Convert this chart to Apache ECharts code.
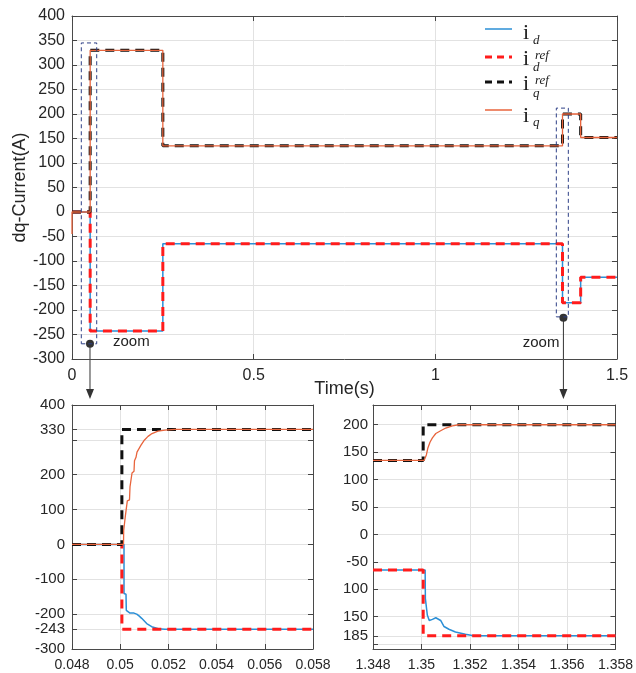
<!DOCTYPE html>
<html>
<head>
<meta charset="utf-8">
<script src="https://cdn.jsdelivr.net/npm/echarts@6/dist/echarts.min.js"></script>
<style>
html,body{margin:0;padding:0;background:#fff;}
#main{width:636px;height:673px;}
</style>
</head>
<body>
<div id="main"></div>
<script>
// whole run: reference steps
var stepTimes = [0, 0.05, 0.25, 1.35, 1.4, 1.5];
var idRefLevels = [0, -243, -65, -185, -133];
var iqRefLevels = [0, 330, 135, 200, 152];
var iqStartValue = -45; // small start transient of iq at t=0

// zoom 1 : t = 0.048 .. 0.058
var z1IdRef = [[0.048, 0], [0.05007, 0], [0.05007, -243], [0.058, -243]];
var z1IqRef = [[0.048, 0], [0.05007, 0], [0.05007, 330], [0.058, 330]];
var z1Iq = [[0.048, 0], [0.050137, 0], [0.050145, 40], [0.050199, 42], [0.05022, 85], [0.050282, 90],
  [0.050295, 125], [0.050386, 128], [0.050407, 165], [0.050469, 170], [0.05049, 205], [0.050573, 210],
  [0.050593, 240], [0.050656, 250], [0.050697, 265], [0.05078, 275], [0.050863, 285], [0.050988, 298],
  [0.051154, 310], [0.05132, 318], [0.051568, 325], [0.051859, 328], [0.052274, 330], [0.058, 330]];
var z1Id = [[0.048, 0], [0.050158, 0], [0.050158, -141], [0.050241, -143], [0.050253, -189], [0.050324, -193],
  [0.050407, -197], [0.050573, -197], [0.050685, -200], [0.05078, -205], [0.050892, -212], [0.0511, -227],
  [0.051307, -236], [0.051581, -242], [0.051859, -243], [0.058, -243]];

// zoom 2 : t = 1.348 .. 1.358
var z2IdRef = [[1.348, -65], [1.35007, -65], [1.35007, -185], [1.358, -185]];
var z2IqRef = [[1.348, 135], [1.35007, 135], [1.35007, 200], [1.358, 200]];
var z2Iq = [[1.348, 135], [1.35011, 135], [1.35019, 137], [1.3502, 145], [1.35025, 147], [1.35026, 157],
  [1.35032, 160], [1.35035, 168], [1.35045, 176], [1.35059, 184], [1.35079, 189], [1.351, 194],
  [1.35127, 198], [1.35154, 200], [1.358, 200]];
var z2Id = [[1.348, -65], [1.35015, -65], [1.35016, -117], [1.35023, -120], [1.35024, -147], [1.35032, -157],
  [1.35038, -159], [1.35045, -155], [1.35052, -153], [1.35059, -152], [1.35065, -153], [1.35079, -157],
  [1.35093, -168], [1.35113, -173], [1.3514, -178], [1.35181, -182], [1.35215, -185], [1.358, -185]];

// tick values / labels
var z1YTicks = [-300, -243, -200, -100, 0, 100, 200, 300, 330, 400];
var z1YLabels = [-300, -243, -200, -100, 0, 100, 200, 330, 400];
var z2YTicks = [-200, -185, -150, -100, -50, 0, 50, 100, 150, 200];
var z2YLabels = [-185, -150, -100, -50, 0, 50, 100, 150, 200];
var z2YText = {'-185': '185', '-150': '150', '-100': '100'}; // printed without minus in the figure

// zoom windows marked on the main plot [x0, y0, x1, y1] and their pointer dots
var zoomBoxes = [[0.0256, -269, 0.068, 345], [1.333, -214, 1.366, 212]];
var zoomDots = [[0.0495, -269], [1.3525, -216]];

var C_ID = '#2b8fd6', C_IDREF = '#ff1c1c', C_IQREF = '#111111', C_IQ = '#e8643c';
var FONT = '"Liberation Sans", Arial, sans-serif';

function steps(times, levels) {
  var out = [];
  for (var i = 0; i < levels.length; i++) {
    out.push([times[i], levels[i]]);
    out.push([times[i + 1], levels[i]]);
  }
  return out;
}

function ln(data, ax, color, width, dash, z) {
  return {
    type: 'line', data: data, xAxisIndex: ax, yAxisIndex: ax, symbol: 'none',
    silent: true, animation: false, z: z,
    lineStyle: {color: color, width: width, type: dash || 'solid'}
  };
}

function boxLine(b) {
  return [[b[0], b[1]], [b[2], b[1]], [b[2], b[3]], [b[0], b[3]], [b[0], b[1]]];
}

var tick = {show: true, inside: true, length: 5, lineStyle: {color: '#444'}};
var line = {show: true, onZero: false, lineStyle: {color: '#4a4a4a', width: 1}};
var split = {show: true, lineStyle: {color: '#e2e2e2', width: 1}};

function xAx(g, min, max, interval, size) {
  return [{
    type: 'value', gridIndex: g, min: min, max: max, interval: interval, position: 'bottom',
    axisLine: line, axisTick: tick, splitLine: split,
    axisLabel: {color: '#262626', fontSize: size, fontFamily: FONT, margin: 9}
  }, {
    type: 'value', gridIndex: g, min: min, max: max, interval: interval, position: 'top',
    axisLine: line, axisTick: tick, splitLine: {show: false}, axisLabel: {show: false}
  }];
}

var iqTop = [[0, iqStartValue]].concat(steps(stepTimes, iqRefLevels));

var xAxes = [].concat(
  xAx(0, 0, 1.5, 0.5, 16),
  xAx(1, 0.048, 0.058, 0.002, 14),
  xAx(2, 1.348, 1.358, 0.002, 14)
);
xAxes[0].name = 'Time(s)';
xAxes[0].nameLocation = 'middle';
xAxes[0].nameGap = 21;
xAxes[0].nameMoveOverlap = false;
xAxes[0].nameTextStyle = {color: '#262626', fontSize: 18, fontFamily: FONT};

var yAxes = [
  {type: 'value', gridIndex: 0, min: -300, max: 400, interval: 50, position: 'left',
    axisLine: line, axisTick: tick, splitLine: split,
    axisLabel: {color: '#262626', fontSize: 16, fontFamily: FONT, margin: 7},
    name: 'dq-Current(A)', nameLocation: 'middle', nameGap: 43, nameMoveOverlap: false,
    nameTextStyle: {color: '#262626', fontSize: 18, fontFamily: FONT}},
  {type: 'value', gridIndex: 0, min: -300, max: 400, interval: 50, position: 'right',
    axisLine: line, axisTick: tick, splitLine: {show: false}, axisLabel: {show: false}},
  {type: 'value', gridIndex: 1, min: -300, max: 400, position: 'left',
    axisLine: line, axisTick: Object.assign({}, tick, {customValues: z1YTicks}), splitLine: split,
    axisLabel: {color: '#262626', fontSize: 15, fontFamily: FONT, margin: 7, customValues: z1YLabels}},
  {type: 'value', gridIndex: 1, min: -300, max: 400, position: 'right',
    axisLine: line, axisTick: Object.assign({}, tick, {customValues: z1YTicks}),
    splitLine: {show: false}, axisLabel: {show: false}},
  {type: 'value', gridIndex: 2, min: -209, max: 236, position: 'left',
    axisLine: line, axisTick: Object.assign({}, tick, {customValues: z2YTicks}), splitLine: split,
    axisLabel: {color: '#262626', fontSize: 15, fontFamily: FONT, margin: 5, customValues: z2YLabels,
      formatter: function (v) { return z2YText[String(v)] || String(v); }}},
  {type: 'value', gridIndex: 2, min: -209, max: 236, position: 'right',
    axisLine: line, axisTick: Object.assign({}, tick, {customValues: z2YTicks}),
    splitLine: {show: false}, axisLabel: {show: false}}
];

// series: axis index 0 main, 2 zoom1, 4 zoom2 (x and y index shared)
var series = [
  ln(steps(stepTimes, idRefLevels), 0, C_ID, 1.5, null, 2),
  ln(steps(stepTimes, idRefLevels), 0, C_IDREF, 3, [9, 6], 3),
  ln(steps(stepTimes, iqRefLevels), 0, C_IQREF, 3, [9, 6], 4),
  ln(iqTop, 0, C_IQ, 1.3, null, 5),
  ln(z1Id, 2, C_ID, 1.5, null, 2),
  ln(z1IdRef, 2, C_IDREF, 3, [9, 6], 3),
  ln(z1IqRef, 2, C_IQREF, 3, [9, 6], 4),
  ln(z1Iq, 2, C_IQ, 1.3, null, 5),
  ln(z2Id, 4, C_ID, 1.5, null, 2),
  ln(z2IdRef, 4, C_IDREF, 3, [9, 6], 3),
  ln(z2IqRef, 4, C_IQREF, 3, [9, 6], 4),
  ln(z2Iq, 4, C_IQ, 1.3, null, 5)
];
zoomBoxes.forEach(function (b) {
  series.push(ln(boxLine(b), 0, '#2d3f86', 1, [4, 3], 6));
});

var chart = echarts.init(document.getElementById('main'), null, {renderer: 'canvas'});
chart.setOption({
  backgroundColor: '#fff',
  animation: false,
  grid: [
    {left: 72, top: 16, width: 545, height: 343},
    {left: 72, top: 405, width: 241, height: 244},
    {left: 373, top: 405, width: 245, height: 244}
  ],
  xAxis: xAxes,
  yAxis: yAxes,
  series: series
});

// legend, zoom pointers
function legendItem(y, color, width, dash, base, sup, sub, subBase) {
  var g = [
    {type: 'line', shape: {x1: 485, y1: y, x2: 512, y2: y}, style: {stroke: color, lineWidth: width, lineDash: dash}},
    {type: 'text', x: 523, y: base, style: {text: 'i', font: '22px "Liberation Serif", serif', fill: '#222', verticalAlign: 'bottom'}}
  ];
  if (sup) g.push({type: 'text', x: 535, y: base - 8, style: {text: sup, font: 'italic 13px "Liberation Serif", serif', fill: '#222', verticalAlign: 'bottom'}});
  g.push({type: 'text', x: 533, y: subBase, style: {text: sub, font: 'italic 13px "Liberation Serif", serif', fill: '#222', verticalAlign: 'bottom'}});
  return g;
}

var gfx = [].concat(
  legendItem(29, C_ID, 1.5, null, 44, null, 'd', 47),
  legendItem(57, C_IDREF, 3, [7, 5], 70, 'ref', 'd', 74),
  legendItem(82, C_IQREF, 3, [7, 5], 95, 'ref', 'q', 100),
  legendItem(110, C_IQ, 1.5, null, 127, null, 'q', 129)
);

zoomDots.forEach(function (d, i) {
  var p = chart.convertToPixel({xAxisIndex: 0, yAxisIndex: 0}, d);
  gfx.push({type: 'line', shape: {x1: p[0], y1: p[1], x2: p[0], y2: 392}, style: {stroke: '#333', lineWidth: 1}});
  gfx.push({type: 'polygon', shape: {points: [[p[0] - 4, 389], [p[0] + 4, 389], [p[0], 399]]}, style: {fill: '#333'}});
  gfx.push({type: 'circle', shape: {cx: p[0], cy: p[1], r: 4}, style: {fill: '#333'}});
  gfx.push({type: 'text', x: i === 0 ? p[0] + 23 : p[0] - 4, y: i === 0 ? p[1] - 2 : 343,
    style: {text: 'zoom', font: '15px ' + FONT, fill: '#222', verticalAlign: 'middle', align: i === 0 ? 'left' : 'right'}});
});
chart.setOption({graphic: gfx});
</script>
</body>
</html>
